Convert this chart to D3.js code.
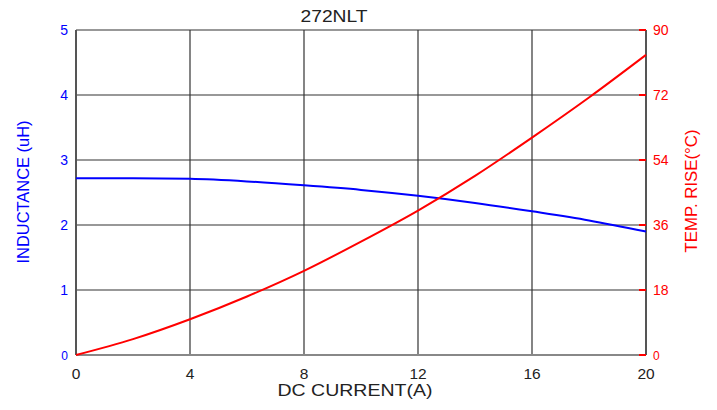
<!doctype html>
<html>
<head>
<meta charset="utf-8">
<script src="https://d3js.org/d3.v7.min.js"></script>
<style>
  body { margin: 0; background: #fff; }
  text { font-family: "Liberation Sans", Arial, sans-serif; }
</style>
</head>
<body>
<script>
  // data
  var current = [0, 2, 4, 6, 8, 10, 12, 14, 16, 18, 20];
  var inductance = [2.72, 2.72, 2.71, 2.67, 2.61, 2.54, 2.45, 2.34, 2.21, 2.07, 1.90];
  var tempRise = [0, 4.4, 9.9, 16.2, 23.3, 31.4, 40.0, 49.6, 60.2, 71.3, 83.1];
  var xTicks = [0, 4, 8, 12, 16, 20];
  var lTicks = [0, 1, 2, 3, 4, 5];
  var rTicks = [0, 18, 36, 54, 72, 90];

  var width = 717, height = 410;
  var m = { top: 30, right: 71, bottom: 55, left: 76 };
  var iw = width - m.left - m.right, ih = height - m.top - m.bottom;

  var svg = d3.select("body").append("svg").attr("width", width).attr("height", height);
  var g = svg.append("g").attr("transform", "translate(" + m.left + "," + m.top + ")");

  var x = d3.scaleLinear().domain([0, 20]).range([0, iw]);
  var yL = d3.scaleLinear().domain([0, 5]).range([ih, 0]);
  var yR = d3.scaleLinear().domain([0, 90]).range([ih, 0]);

  // grid
  g.selectAll(".vg").data(xTicks.slice(1, -1)).enter().append("line")
    .attr("x1", d => x(d)).attr("x2", d => x(d)).attr("y1", 0).attr("y2", ih)
    .attr("stroke", "#333").attr("stroke-width", 1.2);
  g.selectAll(".hg").data(lTicks.slice(1)).enter().append("line")
    .attr("x1", 0).attr("x2", iw).attr("y1", d => yL(d)).attr("y2", d => yL(d))
    .attr("stroke", "#333").attr("stroke-width", 1.2);

  // frame
  g.append("line").attr("x1", 0).attr("x2", iw).attr("y1", ih).attr("y2", ih)
    .attr("stroke", "#888").attr("stroke-width", 2);
  g.append("line").attr("x1", 0).attr("x2", 0).attr("y1", 0).attr("y2", ih)
    .attr("stroke", "#555").attr("stroke-width", 2);
  g.append("line").attr("x1", iw).attr("x2", iw).attr("y1", 0).attr("y2", ih)
    .attr("stroke", "#555").attr("stroke-width", 2);

  // right ticks (red, inside)
  g.selectAll(".rt").data(rTicks).enter().append("line")
    .attr("x1", iw - 7).attr("x2", iw).attr("y1", d => yR(d)).attr("y2", d => yR(d))
    .attr("stroke", "#ff0000").attr("stroke-width", 2);

  // x tick labels
  g.selectAll(".xl").data(xTicks).enter().append("text")
    .attr("x", d => x(d)).attr("y", ih + 24).attr("text-anchor", "middle")
    .attr("font-size", 15.5).attr("fill", "#222").text(d => d);

  // left tick labels
  g.selectAll(".ll").data(lTicks).enter().append("text")
    .attr("x", -8).attr("y", d => yL(d) + 5).attr("text-anchor", "end")
    .attr("font-size", d => d === 0 ? 12 : 14).attr("fill", "#0000ff").text(d => d);

  // right tick labels
  g.selectAll(".rl").data(rTicks).enter().append("text")
    .attr("x", iw + 7).attr("y", d => yR(d) + 5).attr("text-anchor", "start")
    .attr("font-size", d => d === 0 ? 12 : 14).attr("fill", "#ff0000").text(d => d);

  // curves
  var lineL = d3.line().x((d, i) => x(current[i])).y(d => yL(d)).curve(d3.curveMonotoneX);
  var lineR = d3.line().x((d, i) => x(current[i])).y(d => yR(d)).curve(d3.curveMonotoneX);
  g.append("path").attr("d", lineL(inductance)).attr("fill", "none")
    .attr("stroke", "#0000ff").attr("stroke-width", 2);
  g.append("path").attr("d", lineR(tempRise)).attr("fill", "none")
    .attr("stroke", "#ff0000").attr("stroke-width", 2);

  // titles
  svg.append("text").attr("x", 334).attr("y", 22).attr("text-anchor", "middle")
    .attr("font-size", 17).attr("fill", "#222")
    .attr("textLength", 67).attr("lengthAdjust", "spacingAndGlyphs").text("272NLT");
  svg.append("text").attr("x", 355).attr("y", 396).attr("text-anchor", "middle")
    .attr("font-size", 17).attr("fill", "#222")
    .attr("textLength", 155).attr("lengthAdjust", "spacingAndGlyphs").text("DC CURRENT(A)");
  svg.append("text").attr("transform", "translate(29,192) rotate(-90)").attr("text-anchor", "middle")
    .attr("font-size", 17).attr("fill", "#0000ff")
    .attr("textLength", 143).attr("lengthAdjust", "spacingAndGlyphs").text("INDUCTANCE (uH)");
  svg.append("text").attr("transform", "translate(697,191) rotate(-90)").attr("text-anchor", "middle")
    .attr("font-size", 17).attr("fill", "#ff0000")
    .attr("textLength", 123).attr("lengthAdjust", "spacingAndGlyphs").text("TEMP. RISE(°C)");
</script>
</body>
</html>
